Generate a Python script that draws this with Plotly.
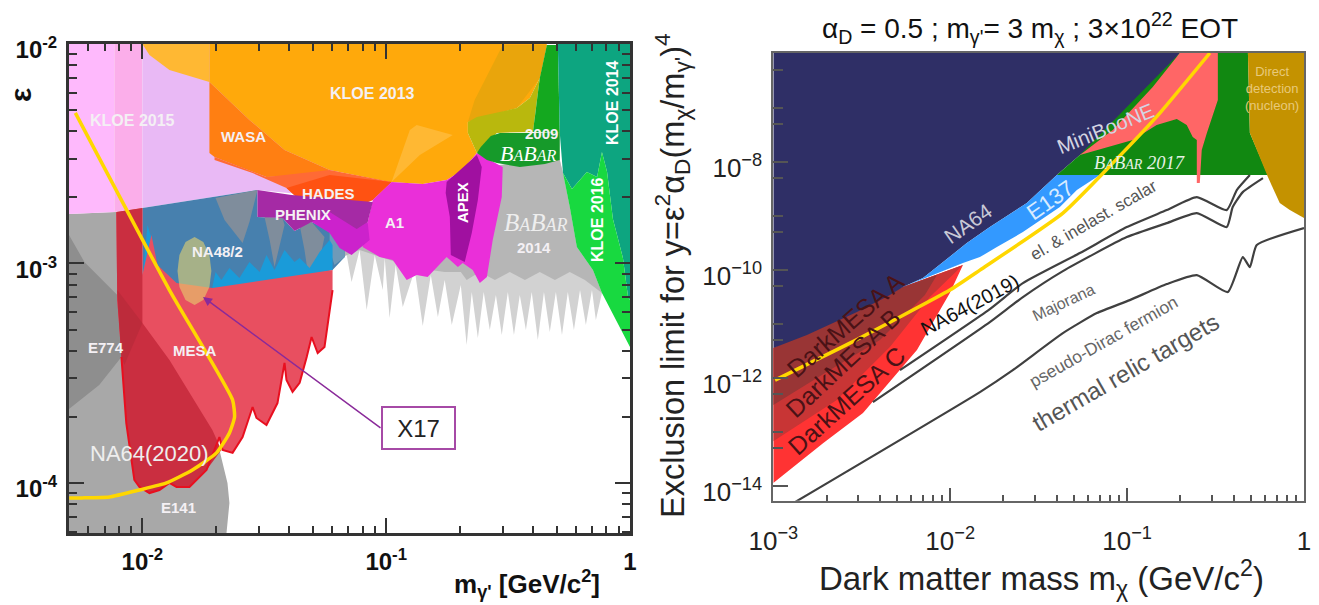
import numpy as np
import plotly.graph_objects as go

W, H = 1319, 605

# ---------- left panel, values read as log10(mass), log10(epsilon) ----------
G_BASE_M = [-2.301,-2.107,-1.971,-1.766,-1.684,-1.651,-1.643,-1.655,-2.301]
G_BASE_E = [-2.774,-2.765,-3.166,-3.711,-3.850,-4.0,-4.091,-4.228,-4.228]
E774_M = [-2.301,-2.238,-2.103,-2.086,-2.177,-2.301]
E774_E = [-2.870,-2.993,-3.144,-3.426,-3.554,-3.663]
K15A_M = [-2.301,-2.115,-2.115,-2.301]
K15A_E = [-2.0,-2.0,-2.765,-2.774]
K15B_M = [-2.115,-2.0,-2.0,-2.115]
K15B_E = [-2.0,-2.0,-2.747,-2.765]
K15C_M = [-2.0,-1.2,-1.2,-1.528,-2.0]
K15C_E = [-2.0,-2.0,-2.7,-2.665,-2.747]
B14L_M = [-0.534,-0.288,-0.275,-0.247,-0.218,-0.152,-0.115,-0.140,-0.156,-0.181,-0.205,-0.230,-0.255,-0.279,-0.304,-0.329,-0.353,-0.378,-0.403,-0.427,-0.452,-0.476,-0.501,-0.526,-0.550,-0.575,-0.600,-0.624,-0.649,-0.670,-0.694,-0.731,-0.760,-0.788,-0.817,-0.850,-0.883,-0.932,-0.961,-0.986,-1.006,-1.014,-1.047,-1.080,-1.109,-1.142,-1.162,-1.191,-1.232]
B14L_E = [-2.551,-2.529,-2.588,-2.743,-2.925,-3.030,-3.134,-3.257,-3.121,-3.280,-3.121,-3.303,-3.130,-3.326,-3.130,-3.312,-3.130,-3.349,-3.130,-3.303,-3.144,-3.326,-3.130,-3.326,-3.144,-3.303,-3.130,-3.339,-3.130,-3.371,-3.098,-3.280,-3.075,-3.244,-3.052,-3.285,-3.030,-3.198,-3.007,-3.248,-2.975,-3.121,-2.961,-3.212,-2.939,-3.084,-2.961,-2.975,-2.893]
B14S_M = [-0.534,-0.288,-0.275,-0.247,-0.218,-0.152,-0.115,-0.185,-0.247,-0.308,-0.370,-0.431,-0.493,-0.554,-0.616,-0.670,-0.694,-0.760,-0.817,-0.883,-0.961,-1.047,-1.109,-1.191,-1.232]
B14S_E = [-2.551,-2.529,-2.588,-2.743,-2.925,-3.030,-3.134,-3.075,-3.039,-3.075,-3.039,-3.075,-3.039,-3.075,-3.039,-3.075,-3.039,-3.039,-3.030,-3.021,-2.993,-2.961,-2.939,-2.975,-2.893]
NA48_M = [-2.0,-1.528,-1.528,-1.425,-1.376,-1.306,-1.232,-1.170,-1.170,-1.220,-1.713,-2.0]
NA48_E = [-2.747,-2.665,-2.788,-2.793,-2.852,-2.811,-2.847,-2.893,-2.970,-3.030,-3.144,-3.144]
CYAN_M = [-1.713,-1.700,-1.676,-1.643,-1.602,-1.561,-1.519,-1.491,-1.458,-1.417,-1.376,-1.355,-1.314,-1.273,-1.232,-1.220,-1.220,-1.713]
CYAN_E = [-3.107,-3.039,-3.075,-3.021,-3.066,-2.993,-3.039,-2.961,-3.030,-2.939,-2.993,-2.975,-3.021,-2.948,-2.893,-2.916,-3.030,-3.144]
CYAN2_M = [-2.0,-1.979,-1.963,-1.971]
CYAN2_E = [-3.075,-2.825,-2.884,-3.098]
GB1_M = [-1.700,-1.663,-1.589,-1.561,-1.528]
GB1_E = [-2.702,-2.802,-2.907,-2.811,-2.665]
GB2_M = [-1.499,-1.478,-1.458,-1.437,-1.417,-1.425]
GB2_E = [-2.788,-2.893,-3.016,-2.911,-2.825,-2.793]
GB3_M = [-1.355,-1.335,-1.306,-1.281,-1.253,-1.306]
GB3_E = [-2.825,-2.939,-3.157,-3.030,-2.879,-2.811]
GB4_M = [-1.232,-1.170,-1.170,-1.212,-1.232]
GB4_E = [-2.847,-2.893,-2.970,-3.007,-2.939]
MESA_M = [-2.107,-2.0,-2.0,-1.963,-1.938,-1.860,-1.713,-1.220,-1.220,-1.240,-1.253,-1.281,-1.306,-1.326,-1.355,-1.384,-1.409,-1.417,-1.446,-1.491,-1.532,-1.548,-1.589,-1.630,-1.671,-1.684,-1.737,-1.807,-1.860,-1.889,-1.930,-1.971,-2.012,-2.033,-2.066,-2.086,-2.103]
MESA_E = [-2.765,-2.747,-3.052,-2.870,-3.007,-3.089,-3.112,-3.030,-3.121,-3.271,-3.380,-3.408,-3.335,-3.426,-3.544,-3.585,-3.531,-3.453,-3.636,-3.736,-3.704,-3.654,-3.791,-3.863,-3.850,-3.791,-3.941,-4.018,-4.018,-4.0,-4.032,-4.046,-4.018,-3.986,-3.727,-3.426,-3.166]
MESA_D_M = [-2.107,-2.0,-2.0,-1.889,-1.713,-1.676,-1.737,-1.807,-1.860,-1.889,-1.930,-1.971,-2.012,-2.033,-2.066,-2.086,-2.103]
MESA_D_E = [-2.765,-2.747,-3.271,-3.440,-3.759,-3.850,-3.941,-4.018,-4.018,-4.0,-4.032,-4.046,-4.018,-3.986,-3.727,-3.426,-3.166]
MESA_E_M = [-2.103,-2.0,-2.074,-2.086]
MESA_E_E = [-3.121,-3.271,-3.463,-3.426]
K13A_M = [-2.0,-1.725,-1.725,-1.889,-1.971]
K13A_E = [-2.0,-2.0,-2.173,-2.118,-2.05]
K13_M = [-1.725,-0.341,-0.370,-0.411,-0.464,-0.628,-0.665,-0.665,-0.628,-0.686,-0.752,-0.850,-0.986,-1.232,-1.417,-1.561,-1.725]
K13_E = [-2.0,-2.0,-2.155,-2.246,-2.292,-2.333,-2.355,-2.405,-2.497,-2.574,-2.620,-2.638,-2.629,-2.574,-2.483,-2.346,-2.173]
K13W_M = [-0.522,-0.341,-0.370,-0.464,-0.665,-0.637]
K13W_E = [-2.005,-2.005,-2.155,-2.292,-2.355,-2.255]
K13L_M = [-0.978,-0.903,-0.875,-0.727,-0.862]
K13L_E = [-2.629,-2.392,-2.369,-2.415,-2.506]
WASA_M = [-1.725,-1.561,-1.417,-1.232,-1.273,-1.491,-1.589,-1.704,-1.725]
WASA_E = [-2.173,-2.346,-2.483,-2.574,-2.597,-2.606,-2.565,-2.515,-2.497]
HAD1_M = [-1.704,-1.589,-1.491,-1.232,-0.978,-1.055,-1.138,-1.232,-1.355,-1.409,-1.548,-1.704]
HAD1_E = [-2.515,-2.565,-2.606,-2.574,-2.629,-2.711,-2.747,-2.747,-2.711,-2.656,-2.588,-2.529]
HAD2_M = [-1.409,-1.232,-0.978,-1.055,-1.138,-1.232,-1.355]
HAD2_E = [-2.656,-2.597,-2.629,-2.711,-2.747,-2.747,-2.711]
A1_M = [-1.055,-0.978,-0.850,-0.752,-0.686,-0.628,-0.522,-0.526,-0.563,-0.587,-0.616,-0.645,-0.686,-0.706,-0.752,-0.830,-0.875,-0.916,-0.973,-1.027,-1.097,-1.076]
A1_E = [-2.711,-2.629,-2.638,-2.620,-2.574,-2.497,-2.560,-2.697,-2.893,-3.062,-3.089,-3.030,-2.998,-3.016,-2.970,-3.062,-3.052,-3.075,-2.984,-2.970,-2.925,-2.811]
PHM_M = [-1.355,-1.232,-1.100,-1.076,-1.068,-1.142,-1.191,-1.232,-1.306]
PHM_E = [-2.740,-2.740,-2.760,-2.811,-2.893,-2.961,-2.929,-2.861,-2.811]
PHX_M = [-1.528,-1.388,-1.055,-1.076,-1.121,-1.191,-1.232,-1.306,-1.376,-1.425,-1.528]
PHX_E = [-2.665,-2.688,-2.720,-2.811,-2.843,-2.793,-2.765,-2.811,-2.852,-2.793,-2.788]
APEX_M = [-0.752,-0.628,-0.608,-0.624,-0.649,-0.678,-0.735,-0.739,-0.756]
APEX_E = [-2.629,-2.506,-2.560,-2.711,-2.861,-2.993,-2.961,-2.788,-2.679]
OLIVE_M = [-0.665,-0.628,-0.464,-0.411,-0.370,-0.398,-0.546,-0.628,-0.665]
OLIVE_E = [-2.355,-2.333,-2.292,-2.246,-2.155,-2.401,-2.405,-2.497,-2.405]
B09_M = [-0.628,-0.612,-0.571,-0.534,-0.288,-0.288,-0.349,-0.452,-0.546,-0.587]
B09_E = [-2.497,-2.469,-2.419,-2.405,-2.405,-2.529,-2.547,-2.560,-2.542,-2.529]
B09C_M = [-0.341,-0.296,-0.288,-0.398,-0.370]
B09C_E = [-2.005,-2.005,-2.405,-2.401,-2.155]
K14_M = [-0.296,0.0,0.0,-0.008,-0.029,-0.070,-0.094,-0.115,-0.135,-0.177,-0.238,-0.275,-0.288]
K14_E = [-2.0,-2.0,-3.166,-3.153,-2.975,-2.797,-2.583,-2.492,-2.606,-2.583,-2.661,-2.588,-2.405]
K16_M = [-0.275,-0.238,-0.177,-0.135,-0.115,-0.094,-0.070,-0.029,-0.008,0.0,0.0,-0.115,-0.152,-0.218,-0.247]
K16_E = [-2.588,-2.661,-2.583,-2.606,-2.492,-2.583,-2.797,-2.975,-3.153,-3.166,-3.380,-3.134,-3.030,-2.925,-2.743]
X17_M = [-1.717,-1.725,-1.750,-1.786,-1.823,-1.848,-1.856,-1.848,-1.823,-1.786,-1.750,-1.725,-1.717]
X17_E = [-3.034,-2.961,-2.902,-2.879,-2.902,-2.961,-3.034,-3.107,-3.166,-3.189,-3.166,-3.107,-3.034]
NA64_L_M = [-2.275,-1.889,-1.630,-1.622,-1.643,-1.696,-1.795,-1.901,-2.012,-2.135,-2.246,-2.300]
NA64_L_E = [-2.314,-3.121,-3.622,-3.700,-3.772,-3.863,-3.941,-4.0,-4.032,-4.064,-4.068,-4.068]

# ---------- right panel, values read as log10(mass), log10(y) ----------
NAVY_M = [-3,-0.702,-0.855,-1.081,-1.267,-1.397,-1.567,-1.776,-1.906,-2.154,-2.267,-2.341,-2.527,-2.810,-3]
NAVY_Y = [-5.98,-5.98,-6.611,-7.407,-7.870,-8.241,-8.759,-9.204,-9.5,-10.148,-10.315,-10.463,-10.778,-11.204,-11.444]
E137_M = [-1.397,-1.567,-1.776,-1.906,-2.154,-2.267,-1.928,-1.832,-1.736,-1.589,-1.380,-1.284,-1.154]
E137_Y = [-8.241,-8.759,-9.204,-9.5,-10.148,-10.315,-9.870,-9.759,-9.574,-9.296,-8.833,-8.519,-8.241]
DMC_M = [-3,-2.719,-2.493,-2.380,-2.188,-2.002,-1.928,-2.267,-3]
DMC_Y = [-13.944,-13.204,-12.648,-12.222,-11.481,-10.426,-9.907,-10.315,-11.444]
DMB_M = [-3,-2.641,-2.341,-2.115,-1.928,-2.267,-3]
DMB_Y = [-13.167,-12.407,-11.426,-10.5,-9.907,-10.315,-11.444]
DMA_M = [-3,-2.680,-2.397,-2.143,-2.075,-2.267,-3]
DMA_Y = [-12.5,-11.852,-11.296,-10.463,-10.093,-10.315,-11.444]
B17_M = [-1.397,-1.267,-0.702,-0.317,-0.306,-0.204]
B17_Y = [-8.241,-7.870,-5.98,-5.98,-7.463,-8.241]
MINI_M = [-1.267,-1.081,-0.855,-0.702,-0.487,-0.487,-0.549,-0.578,-0.589,-0.606,-0.606,-0.629,-0.663,-0.719,-0.833,-0.968]
MINI_Y = [-7.870,-7.407,-6.611,-5.98,-5.98,-6.852,-7.463,-7.778,-8.389,-8.389,-7.593,-7.537,-7.315,-7.204,-7.315,-7.593]
DIRECT_M = [-0.317,0,0,-0.080,-0.137,-0.204,-0.306]
DIRECT_Y = [-5.98,-5.98,-9.037,-8.889,-8.759,-8.278,-7.463]
REL_A_M = [-2.284,-1.776,-1.589,-1.267,-1.002,-0.776,-0.606,-0.437,-0.380,-0.306]
REL_A_Y = [-11.852,-10.722,-10.241,-9.685,-9.204,-8.889,-8.648,-8.889,-8.519,-8.241]
REL_B_M = [-2.437,-1.776,-1.589,-1.363,-1.002,-0.776,-0.606,-0.437,-0.403,-0.346,-0.232]
REL_B_Y = [-12.444,-10.963,-10.5,-10.019,-9.389,-9.130,-8.944,-9.204,-8.833,-8.556,-8.296]
REL_C_M = [-2.877,-1.832,-1.646,-1.363,-1.171,-0.985,-0.776,-0.606,-0.431,-0.346,-0.306,-0.267,0]
REL_C_Y = [-14.296,-12.259,-11.852,-11.167,-10.796,-10.556,-10.259,-10.093,-10.407,-9.759,-9.944,-9.537,-9.222]
NA64_R_M = [-2.99,-2.567,-2.002,-1.832,-1.363,-1.081,-0.815,-0.532]
NA64_R_Y = [-12.037,-11.352,-10.370,-10,-8.944,-8.019,-7.093,-5.98]

LEFT_X_TICKS = [0.01, 0.1, 1]
LEFT_X_TEXT = ["10<sup>-2</sup>", "10<sup>-1</sup>", "1"]
LEFT_Y_TICKS = [1e-4, 1e-3, 1e-2]
LEFT_Y_TEXT = ["10<sup>-4</sup>", "10<sup>-3</sup>", "10<sup>-2</sup>"]
RIGHT_X_TICKS = [1e-3, 1e-2, 1e-1, 1]
RIGHT_X_TEXT = ["10<sup>−3</sup>", "10<sup>−2</sup>", "10<sup>−1</sup>", "1"]
RIGHT_Y_TICKS = [1e-14, 1e-12, 1e-10, 1e-8]
RIGHT_Y_TEXT = ["10<sup>−14</sup>", "10<sup>−12</sup>", "10<sup>−10</sup>", "10<sup>−8</sup>"]

fig = go.Figure()


def area(m, v, color, axes):
    fig.add_trace(go.Scatter(x=10 ** np.array(m, float), y=10 ** np.array(v, float), mode="lines",
                             line=dict(width=0), fill="toself", fillcolor=color,
                             hoverinfo="skip", showlegend=False, xaxis=axes[0], yaxis=axes[1]))


def curve(m, v, color, width, axes, shape="linear"):
    fig.add_trace(go.Scatter(x=10 ** np.array(m, float), y=10 ** np.array(v, float), mode="lines",
                             line=dict(color=color, width=width, shape=shape, smoothing=0.5), hoverinfo="skip",
                             showlegend=False, xaxis=axes[0], yaxis=axes[1]))


L = ("x", "y")
R = ("x2", "y2")
for m, v, c in [
    (G_BASE_M, G_BASE_E, "#a8a8a8"), (E774_M, E774_E, "#8e8e8e"),
    (K15A_M, K15A_E, "#feb9fc"), (K15B_M, K15B_E, "#fbaeea"), (K15C_M, K15C_E, "#e9b9f5"),
    (B14L_M, B14L_E, "#d2d2d2"), (B14S_M, B14S_E, "#b6b6b6"),
    (NA48_M, NA48_E, "#4780ae"), (GB1_M, GB1_E, "#7f8d9c"), (GB2_M, GB2_E, "#7f8d9c"),
    (GB3_M, GB3_E, "#7f8d9c"), (GB4_M, GB4_E, "#6f9ab8"),
    (CYAN_M, CYAN_E, "#1a9bd9"), (CYAN2_M, CYAN2_E, "#1a9bd9"),
    (MESA_M, MESA_E, "#e84f60"), (MESA_D_M, MESA_D_E, "#ca2e40"), (MESA_E_M, MESA_E_E, "#bd2b3b"),
    (K13A_M, K13A_E, "#ffb833"), (K13_M, K13_E, "#ffa90b"), (K13W_M, K13W_E, "#e9a50c"),
    (K13L_M, K13L_E, "#ffb833"), (WASA_M, WASA_E, "#ff7f12"), (HAD1_M, HAD1_E, "#ff6a35"),
    (HAD2_M, HAD2_E, "#ff5212"), (A1_M, A1_E, "#ea2fd9"), (PHM_M, PHM_E, "#cc22cc"),
    (PHX_M, PHX_E, "#a52aa5"), (APEX_M, APEX_E, "#a010a0"), (OLIVE_M, OLIVE_E, "#b9b80d"),
    (B09_M, B09_E, "#169a2a"), (B09C_M, B09C_E, "#14a81f"), (K14_M, K14_E, "#0da580"),
    (K16_M, K16_E, "#18d940"), (X17_M, X17_E, "rgba(230,210,110,0.6)"),
]:
    area(m, v, c, L)
curve(MESA_M[8:36], MESA_E[8:36], "#e80f1f", 2, L)
curve(NA64_L_M, NA64_L_E, "#ffd700", 3.5, L, "spline")

for m, v, c in [
    (DMC_M, DMC_Y, "#ff3333"), (DMB_M, DMB_Y, "#c83535"), (DMA_M, DMA_Y, "#993535"),
    (NAVY_M, NAVY_Y, "#2f2f66"), (E137_M, E137_Y, "#3399ff"), (B17_M, B17_Y, "#118811"),
    (MINI_M, MINI_Y, "#ff6666"), (DIRECT_M, DIRECT_Y, "#c49200"),
]:
    area(m, v, c, R)
for m, v in [(REL_A_M, REL_A_Y), (REL_B_M, REL_B_Y), (REL_C_M, REL_C_Y)]:
    curve(m, v, "#404040", 2.2, R, "spline")
curve(NA64_R_M, NA64_R_Y, "#ffd700", 3.5, R, "spline")

FONT = "Liberation Sans"
notes = []


def label(px, py, text, size=15, color="white", angle=0, family=FONT, **kw):
    notes.append(dict(x=px / W, y=1 - py / H, xref="paper", yref="paper", text=text, showarrow=False,
                      font=dict(family=family, size=size, color=color), textangle=angle,
                      xanchor="center", yanchor="middle", **kw))


def babar(small):
    sm = f"<span style='font-size:{small}px'>"
    return f"<i>B{sm}A</span>B{sm}AR</span></i>"


for px, py, t, s in [(132, 121, "<b>KLOE 2015</b>", 16), (243, 136, "<b>WASA</b>", 15), (372, 94, "<b>KLOE 2013</b>", 16),
                     (328, 193, "<b>HADES</b>", 15), (303, 215, "<b>PHENIX</b>", 15), (394, 222, "<b>A1</b>", 15),
                     (218, 251, "<b>NA48/2</b>", 15), (541, 134, "<b>2009</b>", 15), (534, 247, "<b>2014</b>", 15),
                     (106, 347, "<b>E774</b>", 15), (195, 350, "<b>MESA</b>", 15), (178, 507, "<b>E141</b>", 15)]:
    label(px, py, t, s, "#f4f0f4")
label(462, 203, "<b>APEX</b>", 15, angle=-90)
label(613, 103, "<b>KLOE 2014</b>", 16, angle=-90)
label(597, 220, "<b>KLOE 2016</b>", 16, angle=-90)
label(528, 153, babar(16), 22, family="Liberation Serif")
label(536, 222, babar(18), 25, "#eeeeee", family="Liberation Serif")
label(149, 453, "NA64(2020)", 22, "#eeeeee")
label(20, 95, "<b>ε</b>", 30, "#111111", angle=-90)
label(527, 584, "<b>m<sub>γ'</sub> [GeV/c<sup>2</sup>]</b>", 26, "#111111")

notes.append(dict(x=203 / W, y=1 - 297 / H, xref="paper", yref="paper", text="", showarrow=True,
                  ax=179, ay=132, arrowhead=2, arrowsize=1.2, arrowwidth=1.5, arrowcolor="#8a2a9a"))
notes.append(dict(x=418.5 / W, y=1 - 428 / H, xref="paper", yref="paper", text="X17", showarrow=False,
                  font=dict(family=FONT, size=24, color="#222222"), bgcolor="white",
                  bordercolor="#a64aa6", borderwidth=2, width=69, height=38,
                  xanchor="center", yanchor="middle"))

label(1030, 28, "α<sub>D</sub> = 0.5 ; m<sub>γ'</sub>= 3 m<sub>χ</sub> ; 3×10<sup>22</sup> EOT", 28, "#111111")
label(1041, 578, "Dark matter mass m<sub>χ</sub> (GeV/c<sup>2</sup>)", 33, "#222222")
label(672, 276, "Exclusion limit for y=ε<sup>2</sup>α<sub>D</sub>(m<sub>χ</sub>/m<sub>γ'</sub>)<sup>4</sup>", 32.5,
      "#222222", angle=-90)
label(968, 224, "NA64", 21, "#c9c9d6", -35)
label(1050, 201, "E137", 22, "#d9ecff", -35)
label(1105, 128, "MiniBooNE", 20.5, "#d4d4e2", -22)
label(1139, 163, "<i>B<span style='font-size:14px'>A</span>B<span style='font-size:14px'>AR</span> 2017</i>", 18.5,
      "#e6f2e6", family="Liberation Serif")
label(1272, 88, "Direct<br>detection<br>(nucleon)", 13, "#e8c97a")
label(1093, 220, "el. &amp; inelast. scalar", 17, "#555555", -30)
label(970, 305, "NA64(2019)", 20, "#111111", -28)
label(1063, 302, "Majorana", 16, "#666666", -25)
label(1103, 342, "pseudo-Dirac fermion", 17.5, "#666666", -29.5)
label(1125, 372, "thermal relic targets", 24, "#555555", -30)
label(845, 325, "DarkMESA A", 25, "#4a1216", -41)
label(843, 363, "DarkMESA B", 25, "#4a1216", -43)
label(846, 401, "DarkMESA C", 25, "#4a1216", -42)

MINORS = [k * 10.0 ** d for d in (-5, -4, -3, -2, -1) for k in (2, 3, 4, 5, 6, 7, 8, 9)]
RMINOR_Y = [5 * 10.0 ** d for d in range(-15, -5)]
RMAJOR_Y = [10.0 ** d for d in range(-14, -5)]

lx = dict(domain=[69 / W, 630 / W], type="log", range=[-2.301, 0], tickmode="array", automargin=False,
          tickvals=LEFT_X_TICKS, ticktext=LEFT_X_TEXT, ticks="inside", ticklen=15, tickwidth=2,
          tickcolor="#333333", showgrid=False, zeroline=False, showline=True, linecolor="#333333",
          linewidth=3, mirror="ticks", ticklabelstandoff=5,
          tickfont=dict(family=FONT, size=24, color="#111111", weight="bold"),
          minor=dict(ticks="inside", ticklen=7, tickwidth=2, tickcolor="#333333", tickmode="array",
                     tickvals=MINORS, showgrid=False))
ly = dict(domain=[1 - 533 / H, 1 - 44 / H], type="log", range=[-4.228, -2], tickmode="array", automargin=False,
          tickvals=LEFT_Y_TICKS, ticktext=LEFT_Y_TEXT, ticks="inside", ticklen=15, tickwidth=2,
          tickcolor="#333333", showgrid=False, zeroline=False, showline=True, linecolor="#333333",
          linewidth=3, mirror="ticks", ticklabelstandoff=4, ticklabelshift=6,
          tickfont=dict(family=FONT, size=24, color="#111111", weight="bold"),
          minor=dict(ticks="inside", ticklen=8, tickwidth=2, tickcolor="#333333", tickmode="array",
                     tickvals=MINORS, showgrid=False))
rx = dict(domain=[773.3 / W, 1304 / W], type="log", range=[-3, 0], tickmode="array", anchor="y2", automargin=False,
          tickvals=RIGHT_X_TICKS, ticktext=RIGHT_X_TEXT, ticks="inside", ticklen=13, tickwidth=1.5,
          tickcolor="#555555", showgrid=False, zeroline=False, showline=True, linecolor="#666666",
          linewidth=2, mirror=True, ticklabelstandoff=16,
          tickfont=dict(family=FONT, size=26, color="#222222"),
          minor=dict(ticks="inside", ticklen=6, tickwidth=1.5, tickcolor="#555555", tickmode="array",
                     tickvals=MINORS, showgrid=False))
ry = dict(domain=[1 - 500.7 / H, 1 - 53 / H], type="log", range=[-14.27, -5.98], tickmode="array", anchor="x2", automargin=False,
          tickvals=RIGHT_Y_TICKS, ticktext=RIGHT_Y_TEXT, ticks="inside", ticklen=15, tickwidth=1.5,
          tickcolor="#555555", showgrid=False, zeroline=False, showline=True, linecolor="#666666",
          linewidth=2, mirror=True, ticklabelstandoff=4, ticklabelshift=6,
          tickfont=dict(family=FONT, size=26, color="#222222"),
          minor=dict(ticks="inside", ticklen=10, tickwidth=1.5, tickcolor="#555555", tickmode="array",
                     tickvals=RMINOR_Y + RMAJOR_Y[1::2], showgrid=False))

fig.update_layout(width=W, height=H, margin=dict(l=0, r=0, t=0, b=0), paper_bgcolor="white",
                  plot_bgcolor="white", showlegend=False, annotations=notes,
                  xaxis=lx, yaxis=ly, xaxis2=rx, yaxis2=ry)
fig.write_html("out.html", config=dict(displayModeBar=False),
               post_script="document.body.style.margin='0';document.body.style.overflow='hidden';")
